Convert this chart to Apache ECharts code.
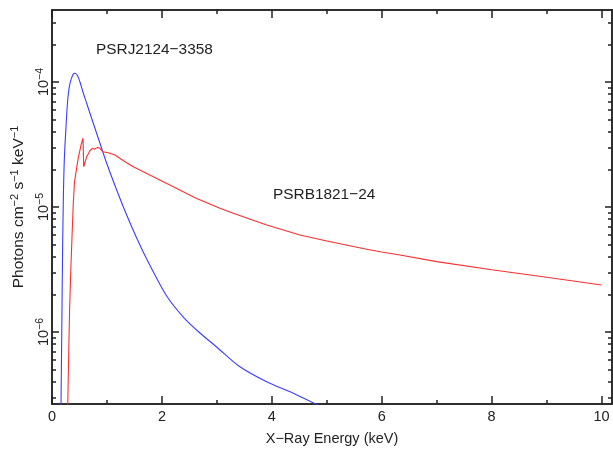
<!DOCTYPE html>
<html>
<head>
<meta charset="utf-8">
<script src="https://cdn.jsdelivr.net/npm/echarts@6/dist/echarts.min.js"></script>
<style>
html,body{margin:0;padding:0;background:#fff;}
#chart{width:613px;height:454px;}
</style>
</head>
<body>
<div id="chart"></div>
<script>
// ---- data (energy in keV, flux in photons cm^-2 s^-1 keV^-1) ----
const blueName = 'PSRJ2124\u22123358';
const blueX = [0.158, 0.164, 0.178, 0.193, 0.206, 0.224, 0.255, 0.286, 0.327, 0.387, 0.418, 0.468, 0.509, 0.569, 0.631, 0.751, 0.873, 0.995, 1.177, 1.359, 1.541, 1.723, 2.087, 2.389, 2.692, 2.996, 3.42, 3.906, 4.39, 4.803, 5.057];
const blueY = [1.5e-7, 2.65e-7, 1.04e-6, 4.53e-6, 1.14e-5, 2.38e-5, 4.39e-5, 7.18e-5, 9.77e-5, 1.16e-4, 1.175e-4, 1.117e-4, 1.0e-4, 8.17e-5, 6.76e-5, 4.68e-5, 3.24e-5, 2.24e-5, 1.37e-5, 8.63e-6, 5.65e-6, 3.84e-6, 1.94e-6, 1.318e-6, 9.82e-7, 7.59e-7, 5.27e-7, 4.0e-7, 3.24e-7, 2.65e-7, 2.38e-7];

const redName = 'PSRB1821\u221224';
const redX = [0.283, 0.287, 0.302, 0.320, 0.342, 0.362, 0.386, 0.409, 0.437, 0.478, 0.528, 0.564, 0.577, 0.631, 0.691, 0.733, 0.770, 0.831, 0.873, 0.904, 0.922, 1.024, 1.146, 1.328, 1.479, 1.843, 2.207, 2.632, 3.056, 3.298, 3.906, 4.512, 5.0, 5.725, 6.0, 6.331, 7.0, 8.0, 9.0, 10.0];
const redY = [1.5e-7, 2.65e-7, 5.97e-7, 1.5e-6, 3.13e-6, 5.44e-6, 1.04e-5, 1.58e-5, 1.9e-5, 2.47e-5, 3.13e-5, 3.55e-5, 2.1e-5, 2.52e-5, 2.82e-5, 2.95e-5, 2.9e-5, 3.0e-5, 2.95e-5, 2.95e-5, 2.77e-5, 2.72e-5, 2.61e-5, 2.3e-5, 2.1e-5, 1.75e-5, 1.45e-5, 1.17e-5, 9.77e-6, 8.91e-6, 7.18e-6, 5.97e-6, 5.35e-6, 4.59e-6, 4.37e-6, 4.13e-6, 3.66e-6, 3.15e-6, 2.74e-6, 2.38e-6];

// ---- axes ----
const xMin = 0, xMax = 10.19;
const xMajorTicks = [0, 2, 4, 6, 8, 10];
const xMinorTicks = [1, 3, 5, 7, 9];
const yMin = 2.655e-7, yMax = 3.77e-4;
const yMajorExponents = [-6, -5, -4];
const yMinorMantissas = [2, 3, 4, 5, 6, 7, 8, 9];
const xTitle = 'X\u2212Ray Energy (keV)';

const FONT = 'Liberation Sans';
const FS = 14.5;
const TXT = '#222';
const AX = '#222';
const logMin = Math.log10(yMin), logMax = Math.log10(yMax);
const yMinorLogs = [];
[-7, -6, -5, -4].forEach(e => yMinorMantissas.forEach(m => yMinorLogs.push(Math.log10(m) + e)));

const richLabel = {
  b: {fontFamily: FONT, fontSize: FS, color: TXT, lineHeight: 18},
  s: {fontFamily: FONT, fontSize: 10.5, color: TXT, lineHeight: 9, verticalAlign: 'top'}
};
const richTitle = {
  b: {fontFamily: FONT, fontSize: 15.5, color: TXT, lineHeight: 20},
  s: {fontFamily: FONT, fontSize: 11, color: TXT, lineHeight: 10, verticalAlign: 'top'}
};

function xAxisDef(pos, ticks, len, labels) {
  return {
    type: 'value', min: xMin, max: xMax, position: pos,
    axisLine: {show: true, onZero: false, lineStyle: {color: AX, width: 1.5}},
    axisTick: {show: true, inside: true, length: len, customValues: ticks, lineStyle: {color: AX, width: 1.5}},
    axisLabel: labels ? {show: true, customValues: ticks, margin: 5, fontFamily: FONT, fontSize: FS, color: TXT} : {show: false},
    splitLine: {show: false}
  };
}
function yAxisDef(pos, ticks, len, labels) {
  return {
    type: 'value', min: logMin, max: logMax, position: pos,
    axisLine: {show: true, onZero: false, lineStyle: {color: AX, width: 1.5}},
    axisTick: {show: true, inside: true, length: len, customValues: ticks, lineStyle: {color: AX, width: 1.5}},
    axisLabel: labels ? {
      show: true, customValues: ticks, rotate: 90, margin: -1,
      formatter: v => '{b|10}{s|\u2212' + Math.abs(Math.round(v)) + '}', rich: richLabel
    } : {show: false},
    splitLine: {show: false}
  };
}

const xAxes = [
  xAxisDef('bottom', xMajorTicks, 8, true),
  xAxisDef('bottom', xMinorTicks, 4, false),
  xAxisDef('top', xMajorTicks, 8, false),
  xAxisDef('top', xMinorTicks, 4, false)
];
xAxes[0].name = xTitle;
xAxes[0].nameLocation = 'middle';
xAxes[0].nameGap = 27;
xAxes[0].nameTextStyle = {fontFamily: FONT, fontSize: FS, color: TXT};

const yLeft = yAxisDef('left', yMajorExponents, 7, true);
yLeft.name = '{b|Photons cm}{s|\u22122}{b| s}{s|\u22121}{b| keV}{s|\u22121}';
yLeft.nameLocation = 'middle';
yLeft.nameRotate = 90;
yLeft.nameGap = 22;
yLeft.nameTextStyle = {rich: richTitle};

const yAxes = [
  {type: 'log', min: yMin, max: yMax, show: false},
  yLeft,
  yAxisDef('left', yMinorLogs, 4, false),
  yAxisDef('right', yMajorExponents, 7, false),
  yAxisDef('right', yMinorLogs, 4, false)
];

const chart = echarts.init(document.getElementById('chart'), null, {renderer: 'canvas'});
chart.setOption({
  animation: false,
  backgroundColor: '#fff',
  grid: {left: 52, right: 1, top: 10, bottom: 50, containLabel: false, outerBoundsMode: 'none'},
  xAxis: xAxes,
  yAxis: yAxes,
  series: [
    {name: blueName, type: 'line', xAxisIndex: 0, yAxisIndex: 0, showSymbol: false, clip: true,
     smooth: 0.3,
     lineStyle: {color: '#3c3cff', width: 1.1}, data: blueX.map((x, i) => [x, blueY[i]])},
    {name: redName, type: 'line', xAxisIndex: 0, yAxisIndex: 0, showSymbol: false, clip: true,
     smooth: false,
     lineStyle: {color: '#ff2e2e', width: 1.1}, data: redX.map((x, i) => [x, redY[i]])}
  ],
  graphic: [
    {type: 'text', left: 96, top: 42, style: {text: blueName, fontFamily: FONT, fontSize: 15.4, fill: TXT}},
    {type: 'text', left: 273, top: 187, style: {text: redName, fontFamily: FONT, fontSize: 15.4, fill: TXT}}
  ]
});
</script>
</body>
</html>
